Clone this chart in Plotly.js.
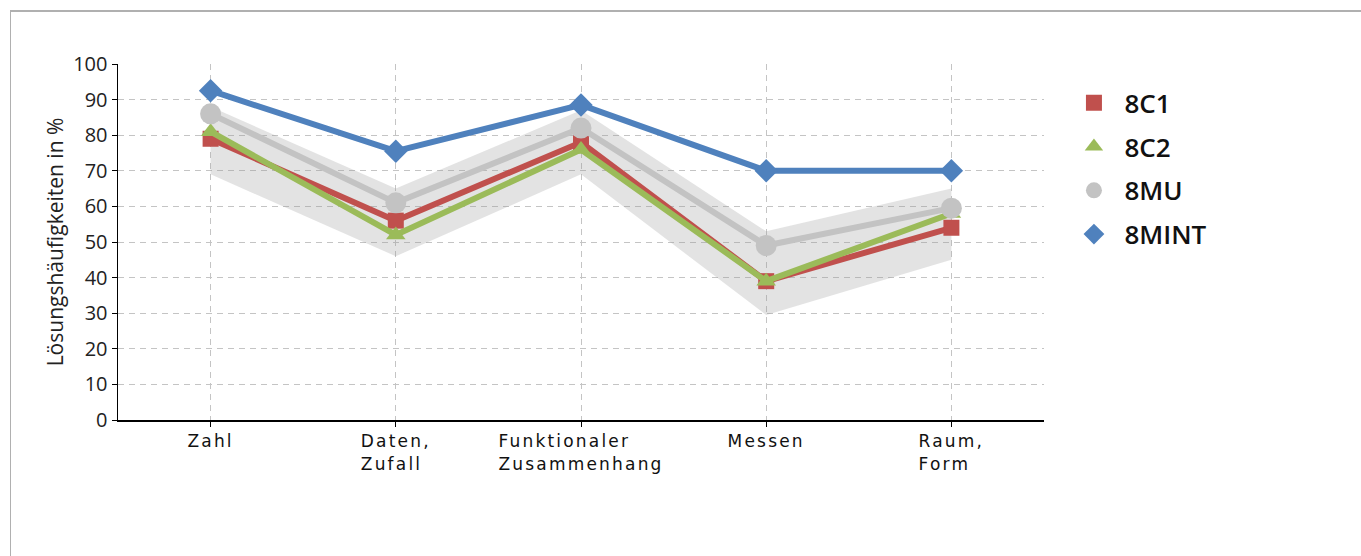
<!DOCTYPE html>
<html>
<head>
<meta charset="utf-8">
<script src="https://cdn.plot.ly/plotly-3.0.1.min.js"></script>
<style>
  html, body { margin: 0; padding: 0; background: #fff; }
  #chart { width: 1361px; height: 556px; position: absolute; left: 0; top: 0; }
  #frame { position: absolute; left: 10px; top: 10px; width: 1400px; height: 600px;
           border-left: 1.5px solid #b0b0b0; border-top: 2px solid #b0b0b0; pointer-events: none; }
  .xtick text { letter-spacing: 2.2px; }
</style>
</head>
<body>
<div id="chart"></div>
<div id="frame"></div>
<script>
const categories = ["Zahl", "Daten,<br>Zufall", "Funktionaler<br>Zusammenhang", "Messen", "Raum,<br>Form"];
const s8C1   = [79, 56, 78, 39, 54];
const s8C2   = [81, 52, 76, 39, 58];
const s8MU   = [86, 61, 82, 49, 59.5];
const s8MINT = [92.5, 75.5, 88.5, 70, 70];
const bandUpper = [88, 65, 87, 53, 65];
const bandLower = [69, 46, 69, 29.5, 45];
const yTicks = [0, 10, 20, 30, 40, 50, 60, 70, 80, 90, 100];

const idx = categories.map((c, i) => i);

const traces = [
  { x: idx, y: bandLower, mode: 'lines', line: { width: 0 }, showlegend: false, hoverinfo: 'skip' },
  { x: idx, y: bandUpper, mode: 'lines', line: { width: 0 }, fill: 'tonexty',
    fillcolor: 'rgba(150,150,150,0.27)', showlegend: false, hoverinfo: 'skip' },
  { x: idx, y: s8C1, mode: 'lines+markers', name: '8C1', showlegend: false,
    line: { color: '#c0504d', width: 6 }, marker: { symbol: 'square', size: 16, color: '#c0504d' } },
  { x: idx, y: s8C2, mode: 'lines+markers', name: '8C2', showlegend: false,
    line: { color: '#9bbb59', width: 6 }, marker: { symbol: 'triangle-up', size: 17, color: '#9bbb59' } },
  { x: idx, y: s8MU, mode: 'lines+markers', name: '8MU', showlegend: false,
    line: { color: '#c3c3c3', width: 6 }, marker: { symbol: 'circle', size: 21, color: '#c3c3c3' } },
  { x: idx, y: s8MINT, mode: 'lines+markers', name: '8MINT', showlegend: false,
    line: { color: '#4f81bd', width: 6 }, marker: { symbol: 'diamond', size: 18, color: '#4f81bd' } },
  // legend entries (marker only)
  { x: [null], y: [null], mode: 'markers', name: '8C1', legendgroup: 'a', marker: { symbol: 'square', size: 16, color: '#c0504d' } },
  { x: [null], y: [null], mode: 'markers', name: '8C2', legendgroup: 'b', marker: { symbol: 'triangle-up', size: 16, color: '#9bbb59' } },
  { x: [null], y: [null], mode: 'markers', name: '8MU', legendgroup: 'c', marker: { symbol: 'circle', size: 16, color: '#c3c3c3' } },
  { x: [null], y: [null], mode: 'markers', name: '8MINT', legendgroup: 'd', marker: { symbol: 'diamond', size: 16, color: '#4f81bd' } }
];

const layout = {
  width: 1361, height: 556,
  margin: { l: 118, r: 317, t: 64, b: 136 },
  paper_bgcolor: 'rgba(0,0,0,0)', plot_bgcolor: 'rgba(0,0,0,0)',
  showlegend: true,
  legend: {
    x: 1.021, xanchor: 'left', y: 0.957, yanchor: 'top',
    font: { family: 'Open Sans', size: 26, color: '#111', weight: 600 },
    traceorder: 'grouped', tracegroupgap: 7, itemwidth: 51
  },
  xaxis: {
    range: [-0.5, 4.5], tickmode: 'array', tickvals: idx, ticktext: categories,
    showline: true, linecolor: '#000', linewidth: 2, ticks: 'outside', ticklen: 5, tickcolor: '#000',
    showgrid: true, gridcolor: '#c4c4c4', griddash: '6px,5px', gridwidth: 1,
    tickfont: { family: 'DejaVu Sans', size: 17, color: '#111' }, zeroline: false, fixedrange: true
  },
  yaxis: {
    range: [0, 100], tickmode: 'array', tickvals: yTicks, ticktext: yTicks.map(String),
    showline: true, linecolor: '#000', linewidth: 1.5, ticks: 'outside', ticklen: 5, tickcolor: '#000',
    showgrid: true, gridcolor: '#c4c4c4', griddash: '6px,5px', gridwidth: 1,
    tickfont: { family: 'Open Sans', size: 20, color: '#222' }, zeroline: false,
    title: { text: 'Lösungshäufigkeiten in %', font: { family: 'Open Sans', size: 21, color: '#222' }, standoff: 4 }
  },
  hovermode: false
};

function leftAlignMultiline() {
  document.querySelectorAll('#chart .xtick text').forEach(t => {
    const lines = t.querySelectorAll('tspan.line');
    if (lines.length < 2) return;
    const bb = t.getBBox();
    t.setAttribute('text-anchor', 'start');
    lines.forEach(s => s.setAttribute('x', bb.x));
  });
}

Plotly.newPlot('chart', traces, layout, { staticPlot: true }).then(leftAlignMultiline);
</script>
</body>
</html>
